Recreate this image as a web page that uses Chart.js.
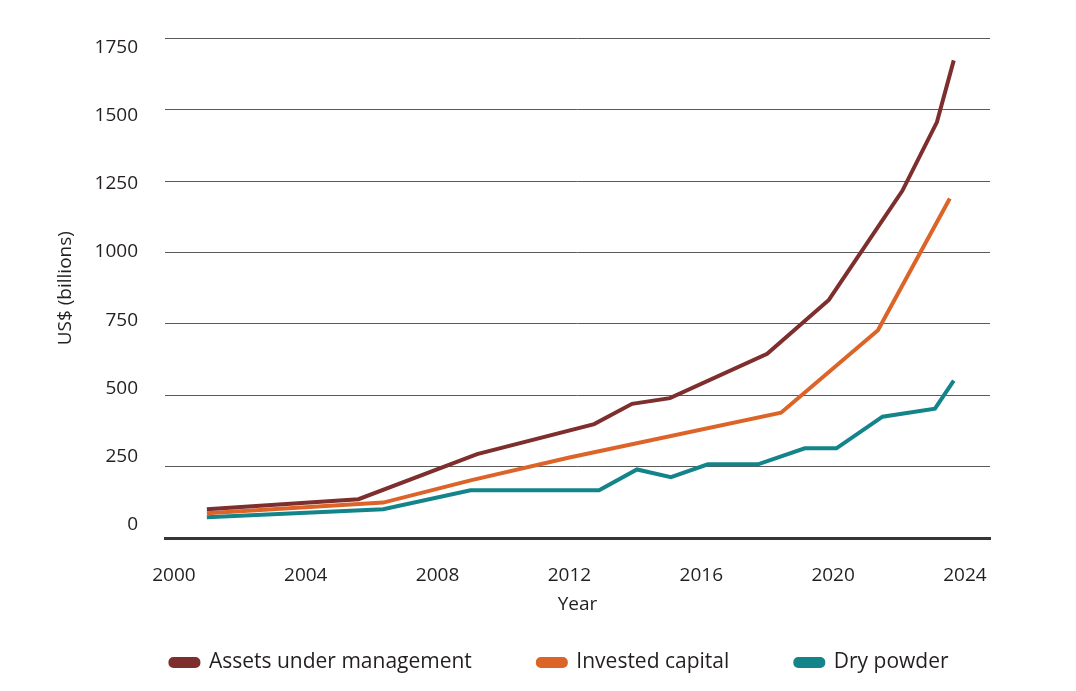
<!DOCTYPE html>
<html>
<head>
<meta charset="utf-8">
<script src="https://cdn.jsdelivr.net/npm/chart.js@4.4.0/dist/chart.umd.min.js"></script>
<style>
  html, body { margin: 0; padding: 0; background: #ffffff; }
  #wrap { width: 1076px; height: 691px; position: relative; }
</style>
</head>
<body>
<div id="wrap"><canvas id="c" width="1076" height="691"></canvas></div>
<script>
// ---- Data ----
const seriesNames = ['Assets under management', 'Invested capital', 'Dry powder'];
const xTickYears = [2000, 2004, 2008, 2012, 2016, 2020, 2024];
const yTickValues = [0, 250, 500, 750, 1000, 1250, 1500, 1750];

const aumYears   = [2001, 2005.6, 2009.2, 2012.75, 2013.9, 2015.05, 2018.0, 2019.87, 2022.1, 2023.15, 2023.66];
const aumValues  = [101, 136, 294, 399, 470, 490, 645, 834, 1216, 1457, 1673];

const investedYears  = [2001, 2006.35, 2009.0, 2012.0, 2018.42, 2021.36, 2023.54];
const investedValues = [87, 124, 202, 282, 439, 728, 1189];

const dryYears  = [2001, 2006.35, 2009.0, 2012.9, 2014.05, 2015.08, 2016.2, 2017.72, 2019.14, 2020.1, 2021.5, 2023.09, 2023.66];
const dryValues = [73, 101, 167, 167, 240, 213, 258, 258, 314, 314, 425, 453, 551];

const colors = ['#7f2e2e', '#dd6428', '#13858a'];

function pairs(xs, ys) { return xs.map((x, i) => ({ x: x, y: ys[i] })); }

const FONT = "'Open Sans', 'Noto Sans', sans-serif";
const TEXT = '#231f20';

const datasets = [
  { label: seriesNames[0], data: pairs(aumYears, aumValues) },
  { label: seriesNames[1], data: pairs(investedYears, investedValues) },
  { label: seriesNames[2], data: pairs(dryYears, dryValues) }
].map((d, i) => Object.assign(d, {
  xAxisID: 'x',
  yAxisID: 'y',
  borderColor: colors[i],
  backgroundColor: colors[i],
  borderWidth: 4,
  pointRadius: 0,
  pointHoverRadius: 0,
  tension: 0,
  fill: false,
  borderJoinStyle: 'miter',
  borderCapStyle: 'butt'
}));

new Chart(document.getElementById('c'), {
  type: 'line',
  data: { datasets: datasets },
  options: {
    responsive: false,
    animation: false,
    devicePixelRatio: 1,
    layout: { padding: { left: 43, right: 0, top: 36, bottom: 8 } },
    plugins: {
      tooltip: { enabled: false },
      legend: {
        display: true,
        position: 'bottom',
        labels: {
          color: TEXT,
          font: { family: FONT, size: 21 },
          boxWidth: 28,
          boxHeight: 7,
          useBorderRadius: true,
          borderRadius: 3,
          padding: 66
        }
      }
    },
    scales: {
      x: {
        type: 'linear',
        min: 1999.73,
        max: 2024.76,
        afterBuildTicks: (axis) => { axis.ticks = xTickYears.map(v => ({ value: v })); },
        afterFit: (axis) => { axis.height = 48; },
        grid: { display: false, drawTicks: false },
        border: { display: true, color: '#363636', width: 3 },
        ticks: {
          color: TEXT,
          font: { family: FONT, size: 19 },
          padding: 26,
          maxRotation: 0,
          autoSkip: false,
          callback: (v) => String(v)
        },
        title: {
          display: true,
          text: 'Year',
          color: TEXT,
          font: { family: FONT, size: 19 },
          padding: { top: 0, bottom: -30 }
        }
      },
      yLabels: {
        type: 'linear',
        position: 'left',
        weight: 1,
        min: -47.4,
        max: 1782.8,
        afterBuildTicks: (axis) => { axis.ticks = yTickValues.map(v => ({ value: v })); },
        afterFit: (axis) => { axis.width = 122; },
        grid: { display: false, drawTicks: false },
        border: { display: false },
        ticks: {
          color: TEXT,
          font: { family: FONT, size: 19 },
          padding: 27,
          callback: (v) => String(v)
        },
        title: {
          display: true,
          text: 'US$ (billions)',
          color: TEXT,
          font: { family: FONT, size: 19 },
          padding: { top: 11, bottom: 0 }
        }
      },
      y: {
        type: 'linear',
        position: 'left',
        weight: 0,
        min: 0,
        max: 1750,
        afterBuildTicks: (axis) => { axis.ticks = yTickValues.map(v => ({ value: v })); },
        afterFit: (axis) => { axis.width = 0; },
        grid: { display: true, drawTicks: false, color: '#5a5a5a', lineWidth: 1 },
        border: { display: false },
        ticks: { display: false },
        title: { display: false }
      },
      yRight: {
        type: 'linear',
        position: 'right',
        display: true,
        afterFit: (axis) => { axis.width = 86; },
        grid: { display: false, drawTicks: false },
        border: { display: false },
        ticks: { display: false }
      }
    }
  }
});
</script>
</body>
</html>
